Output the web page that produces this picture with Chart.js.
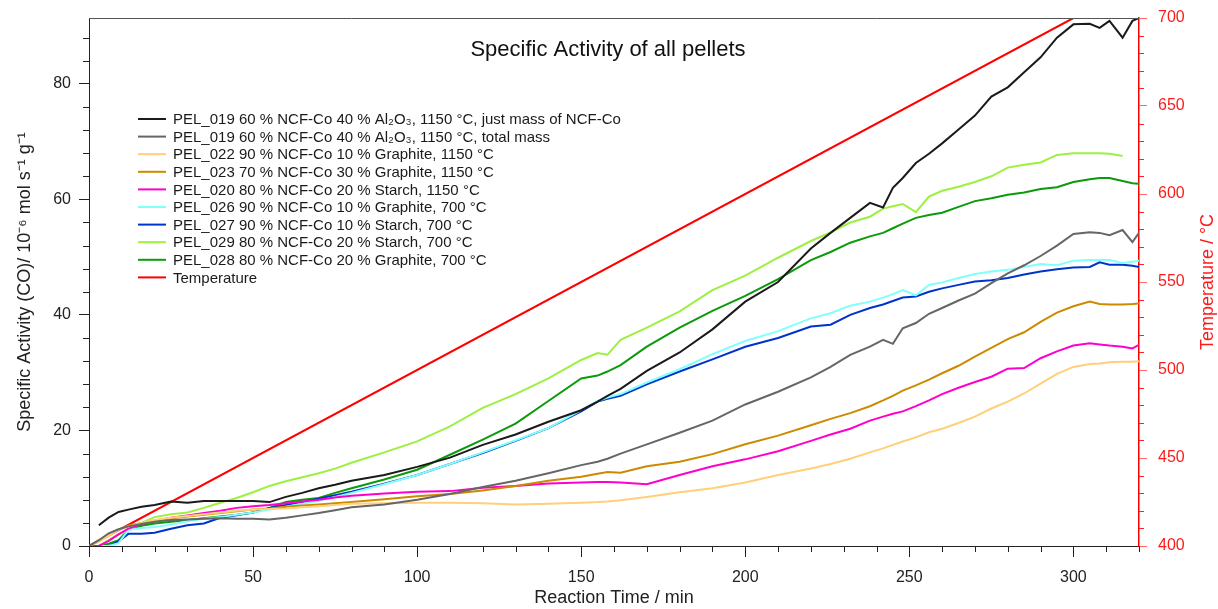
<!DOCTYPE html>
<html>
<head>
<meta charset="utf-8">
<script src="https://cdn.jsdelivr.net/npm/chart.js@4.4.0/dist/chart.umd.min.js"></script>
<style>
  html, body { margin: 0; padding: 0; background: #fff; }
  #wrap { width: 1218px; height: 609px; }
</style>
</head>
<body>
<div id="wrap"><canvas id="actChart" width="1218" height="609"></canvas></div>
<script>
// Reaction time / min (shared by all activity series)
var times = [0, 3, 6, 9, 12, 16, 20, 25, 30, 35, 40, 45, 50, 55, 60, 65, 70, 75, 80, 90,
  100, 110, 120, 130, 140, 150, 155, 158, 162, 170, 180, 190, 200, 210, 220, 226, 232, 238, 242, 245,
  248, 252, 256, 260, 265, 270, 275, 280, 285, 290, 295, 300, 305, 308, 311, 315, 318, 320];

// specific activity / 10^-6 mol s^-1 g^-1
var pel019Ncf = [null, 3.6, 4.9, 5.9, 6.3, 6.8, 7.1, 7.7, 7.5, 7.8, 7.8, 7.8, 7.8, 7.6, 8.5, 9.2, 10, 10.6, 11.3, 12.3,
  13.7, 15.3, 17.5, 19.3, 21.5, 23.5, 25, 26, 27.2, 30.3, 33.5, 37.5, 42.3, 45.7, 51.5, 54.2, 56.8, 59.4, 58.6, 62,
  63.7, 66.3, 67.9, 69.7, 72.1, 74.5, 77.8, 79.4, 82, 84.6, 88, 90.3, 90.4, 89.7, 90.9, 88, 90.9, 91.4];
var pel019Total = [0, 1.0, 2.2, 2.9, 3.4, 3.8, 4.2, 4.5, 4.6, 4.7, 4.8, 4.7, 4.7, 4.6, 4.9, 5.3, 5.7, 6.2, 6.7, 7.2,
  8.0, 9.0, 10.2, 11.3, 12.6, 14, 14.6, 15.1, 16, 17.6, 19.6, 21.7, 24.5, 26.7, 29.2, 31, 33.1, 34.5, 35.7, 35,
  37.7, 38.6, 40.2, 41.2, 42.5, 43.7, 45.5, 47.2, 48.6, 50.2, 52, 54, 54.3, 54.2, 53.8, 54.7, 52.6, 54.2];
var pel022 = [0, 0.8, 1.8, 2.8, 3.4, 4.0, 4.5, 4.9, 5.2, 5.5, 5.8, 6.1, 6.3, 6.4, 6.5, 6.7, 6.9, 7.1, 7.3, 7.4,
  7.5, 7.5, 7.4, 7.2, 7.3, 7.5, 7.6, 7.7, 7.9, 8.5, 9.3, 10, 11, 12.3, 13.4, 14.2, 15.1, 16.2, 16.9, 17.5,
  18.1, 18.8, 19.7, 20.3, 21.3, 22.4, 23.8, 25, 26.4, 28.1, 29.8, 31, 31.5, 31.6, 31.8, 31.9, 31.9, 32];
var pel023 = [0, 0.8, 1.8, 2.8, 3.5, 4.0, 4.4, 4.8, 5.1, 5.4, 5.7, 6.0, 6.3, 6.5, 6.8, 7.0, 7.2, 7.4, 7.6, 8.1,
  8.6, 9.0, 9.6, 10.4, 11.3, 12.0, 12.5, 12.8, 12.7, 13.8, 14.6, 15.9, 17.6, 19.1, 20.9, 22, 23, 24.2, 25.2, 26,
  26.9, 27.8, 28.8, 29.9, 31.2, 32.8, 34.3, 35.8, 37, 38.8, 40.4, 41.5, 42.3, 41.9, 41.8, 41.8, 41.9, 42];
var pel020 = [0, 0, 0.9, 2.0, 3.0, 3.8, 4.3, 4.9, 5.3, 5.7, 6.1, 6.6, 6.9, 7.1, 7.4, 7.7, 8.0, 8.4, 8.7, 9.1,
  9.4, 9.5, 10.1, 10.4, 10.8, 11.0, 11.1, 11.1, 11.0, 10.7, 12.3, 13.8, 15, 16.4, 18.2, 19.3, 20.3, 21.7, 22.4, 22.9,
  23.3, 24.2, 25.2, 26.3, 27.4, 28.4, 29.3, 30.7, 30.8, 32.5, 33.7, 34.7, 35.1, 34.9, 34.7, 34.5, 34.2, 34.8];
var pel026 = [0, 0, 0, 0.5, 2.8, 3.1, 3.3, 3.7, 4.3, 4.7, 5.0, 5.4, 5.8, 6.3, 6.8, 7.3, 7.8, 8.5, 9.2, 10.7,
  12.3, 14.2, 16.2, 18.3, 20.4, 23.5, 25.1, 25.7, 26.3, 28.3, 30.6, 33.2, 35.5, 37.2, 39.4, 40.3, 41.6, 42.3, 43, 43.6,
  44.3, 43.4, 45.2, 45.6, 46.4, 47.1, 47.5, 47.8, 48.3, 48.8, 48.6, 49.4, 49.5, 49.5, 49.5, 49, 49.2, 49.4];
var pel027 = [0, 0, 0, 0.8, 2.1, 2.1, 2.3, 3.0, 3.6, 3.9, 4.9, 5.3, 5.8, 6.6, 7.1, 7.6, 8.2, 8.8, 9.4, 10.8,
  12.3, 14.2, 16.1, 18.2, 20.4, 23.3, 25, 25.5, 26, 28, 30.2, 32.3, 34.5, 36, 38, 38.3, 40, 41.2, 41.8, 42.4,
  43, 43.2, 44, 44.6, 45.2, 45.8, 46, 46.4, 47, 47.5, 47.9, 48.2, 48.3, 49.1, 48.7, 48.7, 48.5, 48.3];
var pel029 = [0, 0, 1.0, 2.0, 2.8, 4.0, 5.0, 5.5, 5.8, 6.6, 7.5, 8.3, 9.3, 10.4, 11.2, 11.9, 12.6, 13.4, 14.4, 16.2,
  18.1, 20.7, 23.9, 26.3, 29, 32.2, 33.4, 33.1, 35.7, 37.8, 40.6, 44.3, 46.8, 49.9, 52.8, 54.3, 56, 57, 58.4, 58.8,
  59.2, 57.8, 60.5, 61.5, 62.2, 63, 64, 65.5, 66, 66.4, 67.7, 68, 68, 68, 67.9, 67.5, null, null];
var pel028 = [0, 0, 0.4, 1.0, 2.8, 3.5, 3.9, 4.2, 4.5, 4.8, 5.1, 5.4, 5.8, 6.6, 7.6, 8.0, 8.3, 9.2, 10.0, 11.5,
  13.2, 15.8, 18.4, 21.2, 25.1, 29, 29.5, 30.2, 31.3, 34.5, 37.8, 40.7, 43.3, 46.2, 49.5, 50.9, 52.5, 53.6, 54.2, 55,
  55.8, 56.8, 57.3, 57.7, 58.7, 59.7, 60.2, 60.8, 61.2, 61.8, 62.1, 63, 63.5, 63.7, 63.7, 63.2, 62.8, 62.7];

// furnace temperature / °C
var tempTimes = [0, 300, 320];
var tempValues = [400, 700, 700];

var seriesLabels = [
  'PEL_019 60 % NCF-Co 40 % Al₂O₃, 1150 °C, just mass of NCF-Co',
  'PEL_019 60 % NCF-Co 40 % Al₂O₃, 1150 °C, total mass',
  'PEL_022 90 % NCF-Co 10 % Graphite, 1150 °C',
  'PEL_023 70 % NCF-Co 30 % Graphite, 1150 °C',
  'PEL_020 80 % NCF-Co 20 % Starch, 1150 °C',
  'PEL_026 90 % NCF-Co 10 % Graphite, 700 °C',
  'PEL_027 90 % NCF-Co 10 % Starch, 700 °C',
  'PEL_029 80 % NCF-Co 20 % Starch, 700 °C',
  'PEL_028 80 % NCF-Co 20 % Graphite, 700 °C'
];
var seriesValues = [pel019Ncf, pel019Total, pel022, pel023, pel020, pel026, pel027, pel029, pel028];
var seriesColors = ['#1a1a1a', '#666666', '#ffcf7a', '#cc8a00', '#ff00cc', '#80ffff', '#0033cc', '#9cf040', '#0a9a0a'];

function toPoints(xs, ys) {
  var pts = [];
  for (var i = 0; i < xs.length; i++) {
    pts.push({ x: xs[i], y: ys[i] });
  }
  return pts;
}

var datasets = [];
for (var i = 0; i < seriesValues.length; i++) {
  datasets.push({
    label: seriesLabels[i],
    data: toPoints(times, seriesValues[i]),
    borderColor: seriesColors[i],
    backgroundColor: seriesColors[i],
    borderWidth: 2,
    pointRadius: 0,
    yAxisID: 'y'
  });
}
datasets.push({
  label: 'Temperature',
  data: toPoints(tempTimes, tempValues),
  borderColor: '#ff0000',
  backgroundColor: '#ff0000',
  borderWidth: 2,
  pointRadius: 0,
  yAxisID: 'y2'
});

var FONT = '"Liberation Sans", Arial, sans-serif';

// title, legend, frame, right title and minor ticks drawn on top of the plot
var decorPlugin = {
  id: 'decor',
  afterDatasetsDraw: function (chart) {
    var ctx = chart.ctx;
    var a = chart.chartArea;
    ctx.save();

    // top frame
    ctx.strokeStyle = '#555';
    ctx.lineWidth = 1;
    ctx.beginPath();
    ctx.moveTo(a.left, a.top + 0.5);
    ctx.lineTo(a.right, a.top + 0.5);
    ctx.stroke();

    // minor ticks
    var sx = chart.scales.x, sy = chart.scales.y, sy2 = chart.scales.y2;
    ctx.strokeStyle = '#222';
    ctx.beginPath();
    for (var t = 0; t <= 320; t += 10) {
      if (t % 50 === 0) continue;
      var px = Math.round(sx.getPixelForValue(t)) + 0.5;
      ctx.moveTo(px, a.bottom);
      ctx.lineTo(px, a.bottom + 6);
    }
    for (var v = 0; v <= 91; v += 4) {
      if (v % 20 === 0) continue;
      var py = Math.round(sy.getPixelForValue(v)) + 0.5;
      ctx.moveTo(a.left, py);
      ctx.lineTo(a.left - 6, py);
    }
    ctx.stroke();
    ctx.strokeStyle = '#ff2020';
    ctx.beginPath();
    for (var tc = 400; tc <= 700; tc += 10) {
      if (tc % 50 === 0) continue;
      var py2 = Math.round(sy2.getPixelForValue(tc)) + 0.5;
      ctx.moveTo(a.right, py2);
      ctx.lineTo(a.right + 5, py2);
    }
    ctx.stroke();

    // right axis title, reading bottom to top
    ctx.save();
    ctx.translate(1208, 282);
    ctx.rotate(-Math.PI / 2);
    ctx.fillStyle = '#ff1a1a';
    ctx.font = '18px ' + FONT;
    ctx.textAlign = 'center';
    ctx.textBaseline = 'middle';
    ctx.fillText('Temperature / °C', 0, 0);
    ctx.restore();

    // title inside the plot
    ctx.fillStyle = '#111';
    ctx.font = '22px ' + FONT;
    ctx.textAlign = 'center';
    ctx.textBaseline = 'middle';
    ctx.fillText('Specific Activity of all pellets', 608, 50);

    // legend
    ctx.font = '15px ' + FONT;
    ctx.textAlign = 'left';
    var ds = chart.data.datasets;
    for (var k = 0; k < ds.length; k++) {
      var ly = 119 + k * 17.6;
      ctx.strokeStyle = ds[k].borderColor;
      ctx.lineWidth = 2;
      ctx.beginPath();
      ctx.moveTo(138, ly);
      ctx.lineTo(166, ly);
      ctx.stroke();
      ctx.fillStyle = '#1a1a1a';
      ctx.fillText(ds[k].label, 173, ly + 1);
    }
    ctx.restore();
  }
};

var config = {
  type: 'line',
  data: { datasets: datasets },
  options: {
    responsive: false,
    animation: false,
    layout: { padding: { top: 18, left: 0, right: 0, bottom: 0 } },
    plugins: {
      legend: { display: false },
      title: { display: false },
      tooltip: { enabled: false }
    },
    scales: {
      x: {
        type: 'linear',
        min: 0,
        max: 320,
        afterFit: function (s) { s.height = 63; s.paddingLeft = 0; s.paddingRight = 0; },
        ticks: { stepSize: 50, includeBounds: false, color: '#222', padding: 11, font: { family: FONT, size: 16 } },
        grid: { drawOnChartArea: false, drawTicks: true, tickLength: 11, color: '#222' },
        border: { color: '#222', width: 1 },
        title: { display: true, text: 'Reaction Time / min', color: '#222', font: { family: FONT, size: 18 }, padding: { top: 0, bottom: 0 } }
      },
      y: {
        type: 'linear',
        position: 'left',
        min: 0,
        max: 91.4,
        afterFit: function (s) { s.width = 89; s.paddingTop = 0; s.paddingBottom = 0; },
        ticks: { stepSize: 20, includeBounds: false, color: '#222', padding: 8, font: { family: FONT, size: 16 } },
        grid: { drawOnChartArea: false, drawTicks: true, tickLength: 10, color: '#222' },
        border: { color: '#222', width: 1 },
        title: { display: true, text: 'Specific Activity (CO)/ 10⁻⁶ mol s⁻¹ g⁻¹', color: '#222', font: { family: FONT, size: 18 }, padding: { top: 14, bottom: 4 } }
      },
      y2: {
        type: 'linear',
        position: 'right',
        min: 400,
        max: 700,
        afterFit: function (s) { s.width = 79; s.paddingTop = 0; s.paddingBottom = 0; },
        ticks: { stepSize: 50, includeBounds: false, color: '#ff1a1a', padding: 11, font: { family: FONT, size: 16 } },
        grid: { drawOnChartArea: false, drawTicks: true, tickLength: 8, color: '#ff6666' },
        border: { color: '#ff0000', width: 1.5 },
        title: { display: false }
      }
    }
  },
  plugins: [decorPlugin]
};

var canvas = document.getElementById('actChart');
var actChart = new Chart(canvas, config);
</script>
</body>
</html>
